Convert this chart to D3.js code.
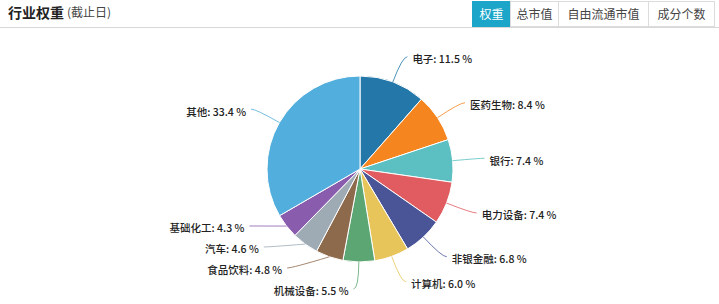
<!DOCTYPE html>
<html><head><meta charset="utf-8">
<script src="https://cdn.jsdelivr.net/npm/d3@7"></script>
<style>
body{margin:0;background:#fff;font-family:"Noto Sans CJK SC","Noto Sans",sans-serif;}
svg{display:block}
</style></head>
<body>
<svg id="chart" width="719" height="304"></svg>
<script>
const categories = ["电子","医药生物","银行","电力设备","非银金融","计算机","机械设备","食品饮料","汽车","基础化工","其他"];
const values = [11.5, 8.4, 7.4, 7.4, 6.8, 6.0, 5.5, 4.8, 4.6, 4.3, 33.4];
const colors = ["#2378a9","#f5861f","#5cc0c2","#e05c60","#4a5597","#e8c55a","#5ba672","#8e6a4c","#9eabb5","#8a5cae","#52aedc"];
const tabs = ["权重","总市值","自由流通市值","成分个数"];

const svg = d3.select("#chart");
const W = 719, H = 304;

// header
svg.append("text").attr("x",8).attr("y",18).attr("font-size",14).attr("font-weight","bold").attr("fill","#222").text("行业权重");
svg.append("text").attr("x",67).attr("y",17).attr("font-size",12).attr("fill","#444").text("(截止日)");
svg.append("line").attr("x1",0).attr("x2",W).attr("y1",27.5).attr("y2",27.5).attr("stroke","#d8d8d8");

// tabs
const tabW = [38,48,90,66];
let tx = 472;
tabs.forEach((t,i)=>{
  const g = svg.append("g");
  g.append("rect").attr("x",tx+0.5).attr("y",1.5).attr("width",tabW[i]).attr("height",25)
    .attr("fill", i===0 ? "#1ba6c9" : "#fff").attr("stroke", i===0 ? "#1ba6c9" : "#dcdcdc");
  g.append("text").attr("x",tx+tabW[i]/2+0.5).attr("y",18.5).attr("text-anchor","middle").attr("font-size",12)
    .attr("fill", i===0 ? "#fff" : "#444").text(t);
  tx += tabW[i];
});

// pie
const cx = 360, cy = 169, r = 93, R = 120, len2 = 5;
const data = categories.map((c,i)=>({name:c, value:values[i], color:colors[i]}));
const pie = d3.pie().sort(null).value(d=>d.value);
const arcs = pie(data);
const arc = d3.arc().innerRadius(0).outerRadius(r);
const g = svg.append("g").attr("transform",`translate(${cx},${cy})`);
g.selectAll("path.slice").data(arcs).enter().append("path").attr("class","slice")
  .attr("d",arc).attr("fill",d=>d.data.color).attr("stroke","#fff").attr("stroke-width",1);

// label layout
const labels = arcs.map(a=>{
  const mid = (a.startAngle+a.endAngle)/2;
  const sx = Math.sin(mid), sy = -Math.cos(mid);
  return {a, mid, side: sx>=0?1:-1, p0:[sx*r, sy*r], y: sy*R};
});
const minGap = 21;
[1,-1].forEach(side=>{
  const L = labels.filter(l=>l.side===side).sort((a,b)=>a.y-b.y);
  for(let i=L.length-1;i>=0;i--){
    if(i===L.length-1) L[i].y = Math.min(L[i].y, R);
    else L[i].y = Math.min(L[i].y, L[i+1].y-minGap);
  }
  for(let i=0;i<L.length;i++){
    if(i===0) L[i].y = Math.max(L[i].y, -R);
    else L[i].y = Math.max(L[i].y, L[i-1].y+minGap);
  }
});
labels.forEach(l=>{
  const dy = Math.max(-R, Math.min(R, l.y));
  const x = l.side*Math.sqrt(R*R-dy*dy);
  l.p1 = [x, l.y];
  l.p2 = [x + l.side*len2, l.y];
});
g.selectAll("path.lbl").data(labels).enter().append("path").attr("class","lbl")
  .attr("d",l=>`M${l.p0[0]},${l.p0[1]}Q${l.p1[0]},${l.p1[1]} ${l.p2[0]},${l.p2[1]}`)
  .attr("fill","none").attr("stroke",l=>l.a.data.color).attr("stroke-opacity",0.8).attr("stroke-width",1);
g.selectAll("text.lbl").data(labels).enter().append("text").attr("class","lbl")
  .attr("x",l=>l.p2[0]+l.side*5).attr("y",l=>l.p2[1]+2)
  .attr("text-anchor",l=>l.side>0?"start":"end").attr("dominant-baseline","central")
  .attr("font-size",10.5).attr("font-weight",500).attr("fill","#222")
  .text(l=>`${l.a.data.name}: ${l.a.data.value.toFixed(1)} %`);
</script>
</body></html>
